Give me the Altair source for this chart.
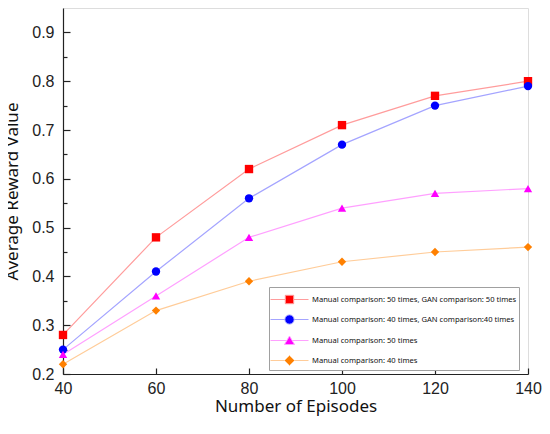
import altair as alt
import pandas as pd

episodes = [40, 60, 80, 100, 120, 140]
series_names = [
    "Manual comparison: 50 times, GAN comparison: 50 times",
    "Manual comparison: 40 times, GAN comparison:40 times",
    "Manual comparison: 50 times",
    "Manual comparison: 40 times",
]
values_s1 = [0.28, 0.48, 0.62, 0.71, 0.77, 0.80]
values_s2 = [0.25, 0.41, 0.56, 0.67, 0.75, 0.79]
values_s3 = [0.24, 0.36, 0.48, 0.54, 0.57, 0.58]
values_s4 = [0.22, 0.33, 0.39, 0.43, 0.45, 0.46]
y_major = [0.2, 0.3, 0.4, 0.5, 0.6, 0.7, 0.8, 0.9]
y_minor = [0.25, 0.35, 0.45, 0.55, 0.65, 0.75, 0.85]

marker_colors = ["#ff0000", "#0000ff", "#ff00ff", "#ff8000"]
line_colors = ["#ff9c9c", "#a4a4ff", "#ffa0ff", "#ffcc99"]
plot_shapes = ["square", "circle", "triangle-up", "diamond"]
legend_shapes = [
    "M-1.9,0H-0.4M0.4,0H1.9M-0.42,-0.42H0.42V0.42H-0.42Z",
    "M-1.9,0H-0.46M0.46,0H1.9M-0.46,0A0.46,0.46 0 1,0 0.46,0A0.46,0.46 0 1,0 -0.46,0Z",
    "M-1.9,0H-0.3M0.3,0H1.9M0,-0.45L0.5,0.4L-0.5,0.4Z",
    "M-1.9,0H-0.5M0.5,0H1.9M0,-0.5L0.5,0L0,0.5L-0.5,0Z",
]

rows = []
for name, vals in zip(series_names, [values_s1, values_s2, values_s3, values_s4]):
    for e, v in zip(episodes, vals):
        rows.append({"episodes": e, "value": v, "series": name})
df = pd.DataFrame(rows)

W, H = 465, 366
xs = alt.Scale(domain=[40, 140], nice=False, zero=False)
ys = alt.Scale(domain=[0.2, 0.95], nice=False, zero=False)
fill_scale = alt.Scale(domain=series_names, range=marker_colors)
stroke_scale = alt.Scale(domain=series_names, range=line_colors)
axis_dark = "#222222"

shared_legend = alt.Legend(
    title=None, orient="none", legendX=206, legendY=279,
    symbolSize=400, symbolOffset=8, symbolStrokeWidth=1, symbolOpacity=1,
    labelOffset=12, labelFont="Noto Sans", labelFontSize=7.6, labelColor="#111",
    labelLimit=400, rowPadding=3, padding=2,
    fillColor="white", strokeColor="#a0a0a0")

base = alt.Chart(df)

lines = base.mark_line(strokeWidth=1.2).encode(
    x=alt.X("episodes:Q", scale=xs, axis=alt.Axis(
        orient="bottom", values=episodes, ticks=False, labelPadding=6, grid=False,
        labelFlush=False, labelOverlap=False,
        title="Number of Episodes", titlePadding=2, domainColor=axis_dark, domainWidth=1.2,
        labelFont="Liberation Sans", labelFontSize=16, labelColor="#222",
        titleFont="Noto Sans", titleFontSize=17, titleFontWeight="normal", titleColor="#111")),
    y=alt.Y("value:Q", scale=ys, axis=alt.Axis(
        orient="left", values=y_major, format=".1f", ticks=False, labelPadding=9, grid=False,
        labelFlush=False, labelOverlap=False,
        title="Average Reward Value", titlePadding=10, domainColor=axis_dark, domainWidth=1.2,
        labelFont="Liberation Sans", labelFontSize=16, labelColor="#222",
        titleFont="Noto Sans", titleFontSize=17, titleFontWeight="normal", titleColor="#111")),
    stroke=alt.Stroke("series:N", scale=stroke_scale, legend=shared_legend),
    detail="series:N",
)

point_layers = []
for i, (name, shp) in enumerate(zip(series_names, plot_shapes)):
    if i == 0:
        xa = alt.Axis(orient="top", offset=-H, values=episodes, ticks=True, tickSize=6,
                      tickColor=axis_dark, tickWidth=1.2, labels=False, domain=False,
                      grid=False, title=None)
        ya = alt.Axis(orient="right", offset=-W, values=y_major, ticks=True, tickSize=7,
                      tickColor=axis_dark, tickWidth=1.2, labels=False, domain=False,
                      grid=False, title=None)
    else:
        xa = None
        ya = None
    point_layers.append(
        base.transform_filter(alt.datum.series == name)
        .mark_point(filled=True, size=70, opacity=1, shape=shp)
        .encode(
            x=alt.X("episodes:Q", scale=xs, axis=xa),
            y=alt.Y("value:Q", scale=ys, axis=ya),
            fill=alt.Fill("series:N", scale=fill_scale, legend=shared_legend),
        )
    )

legend_layer = base.mark_point(filled=True, size=400, opacity=0).encode(
    x=alt.X("episodes:Q", scale=xs, axis=None),
    y=alt.Y("value:Q", scale=ys, axis=alt.Axis(
        orient="right", offset=-W, values=y_minor, ticks=True, tickSize=4, tickColor=axis_dark,
        tickWidth=1.2, labels=False, domain=False, grid=False, title=None)),
    fill=alt.Fill("series:N", scale=fill_scale, legend=shared_legend),
    stroke=alt.Stroke("series:N", scale=stroke_scale, legend=shared_legend),
    shape=alt.Shape("series:N", scale=alt.Scale(domain=series_names, range=legend_shapes),
                    legend=shared_legend),
)

chart = alt.layer(lines, *point_layers, legend_layer).resolve_axis(
    x="independent", y="independent"
).properties(
    width=W, height=H,
    autosize=alt.AutoSizeParams(type="none"),
    padding={"left": 55, "top": 0, "right": 14, "bottom": 44},
).configure_view(stroke=axis_dark, strokeWidth=1.2).configure(background="white")

chart.save("out.html", embed_options={"renderer": "svg", "actions": False})
